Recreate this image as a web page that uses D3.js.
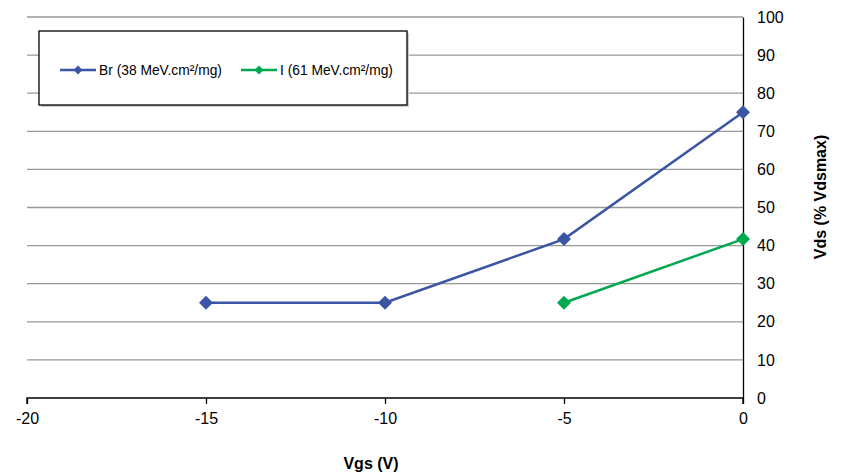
<!DOCTYPE html>
<html><head><meta charset="utf-8">
<script src="https://cdn.jsdelivr.net/npm/d3@7"></script>
<style>body{margin:0;background:#fff}svg{display:block;font-family:"Liberation Sans",Arial,sans-serif}</style>
</head><body><svg id="c" width="841" height="476"></svg>
<script>
const xTicks = [-20, -15, -10, -5, 0];
const yTicks = [0, 10, 20, 30, 40, 50, 60, 70, 80, 90, 100];
const brX = [-15, -10, -5, 0];
const brY = [25, 25, 41.7, 75];
const iX = [-5, 0];
const iY = [25, 41.7];
const seriesNames = ["Br (38 MeV.cm²/mg)", "I (61 MeV.cm²/mg)"];
const seriesColors = ["#3A55A4", "#00A94F"];

const svg = d3.select("#c");
const x = d3.scaleLinear().domain([-20, 0]).range([27, 743]);
const y = d3.scaleLinear().domain([0, 100]).range([398, 17]);

// gridlines
svg.append("g").selectAll("line").data(yTicks.filter(d => d > 0)).join("line")
  .attr("x1", x(-20)).attr("x2", x(0)).attr("y1", d => y(d)).attr("y2", d => y(d))
  .attr("stroke", "#999").attr("stroke-width", 1.3);

// x axis
const xa = svg.append("g").attr("transform", `translate(0,${y(0)})`)
  .call(d3.axisBottom(x).tickValues(xTicks).tickSize(6).tickPadding(9).tickFormat(d => String(d)));
xa.select(".domain").attr("stroke", "#000").attr("stroke-width", 1.3).attr("d", `M${x(-20)},6V0H${x(0)}V6`);
xa.selectAll(".tick line").attr("stroke", "#000").attr("stroke-width", 1.3);
xa.selectAll("text").attr("font-size", 16).attr("fill", "#000").attr("font-family", "Liberation Sans, Arial, sans-serif");

// y axis (right)
const ya = svg.append("g").attr("transform", `translate(${x(0)},0)`)
  .call(d3.axisRight(y).tickValues(yTicks).tickSize(0).tickPadding(14).tickFormat(d => String(d)));
ya.select(".domain").attr("stroke", "#000").attr("stroke-width", 1.3);
ya.selectAll("text").attr("font-size", 16).attr("fill", "#000").attr("font-family", "Liberation Sans, Arial, sans-serif");

// titles
svg.append("text").attr("x", 371).attr("y", 469).attr("text-anchor", "middle")
  .attr("font-size", 16).attr("font-weight", "bold").text("Vgs (V)");
svg.append("text").attr("transform", "translate(820,197) rotate(-90)").attr("text-anchor", "middle")
  .attr("dominant-baseline", "central").attr("font-size", 16).attr("font-weight", "bold").text("Vds (% Vdsmax)");

const diamond = r => `M0,${-r}L${r},0L0,${r}L${-r},0Z`;
const line = d3.line().x(d => x(d[0])).y(d => y(d[1]));

[[brX, brY], [iX, iY]].forEach(([xs, ys], k) => {
  const pts = xs.map((v, i) => [v, ys[i]]);
  svg.append("path").attr("d", line(pts)).attr("fill", "none")
    .attr("stroke", seriesColors[k]).attr("stroke-width", 2.5);
  svg.append("g").selectAll("path").data(pts).join("path")
    .attr("transform", d => `translate(${x(d[0])},${y(d[1])})`)
    .attr("d", diamond(7)).attr("fill", seriesColors[k]);
});

// legend
const lg = svg.append("g");
lg.append("rect").attr("x", 41).attr("y", 33).attr("width", 368).attr("height", 74).attr("fill", "#ccc");
lg.append("rect").attr("x", 39).attr("y", 31).attr("width", 368).attr("height", 74)
  .attr("fill", "#fff").attr("stroke", "#000").attr("stroke-width", 1.3);
const legX = [60, 241];
seriesNames.forEach((name, k) => {
  const g = lg.append("g").attr("transform", `translate(${legX[k]},70)`);
  g.append("line").attr("x1", 0).attr("x2", 36).attr("stroke", seriesColors[k]).attr("stroke-width", 2.5);
  g.append("path").attr("transform", "translate(18,0)").attr("d", diamond(4.5)).attr("fill", seriesColors[k]);
  g.append("text").attr("x", 39).attr("y", 0).attr("dominant-baseline", "central")
    .attr("font-size", 13.8).attr("fill", "#000").text(name);
});
</script></body></html>
